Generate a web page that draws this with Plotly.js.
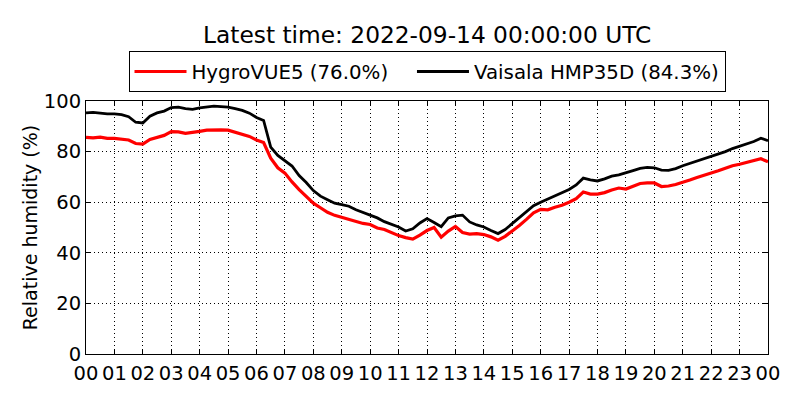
<!DOCTYPE html>
<html>
<head>
<meta charset="utf-8">
<script src="https://cdn.plot.ly/plotly-3.0.1.min.js"></script>
<style>
  body { margin: 0; background: #fff; }
  #chart { width: 800px; height: 400px; }
</style>
</head>
<body>
<div id="chart"></div>
<script>
// 15-minute samples from 2022-09-13 00:00 to 2022-09-14 00:00 UTC
const startTime = "2022-09-13T00:00:00Z";
const stepMinutes = 15;

const hygrovue = [
  85.6, 85.4, 85.7, 85.2, 85.2, 85.0, 84.6, 83.2,
  83.0, 84.8, 85.6, 86.4, 87.9, 87.8, 87.2, 87.5,
  88.0, 88.5, 88.7, 88.6, 88.5, 87.6, 87.0, 86.0,
  84.6, 83.6, 77.4, 73.6, 71.5, 68.0, 65.0, 62.4,
  59.6, 57.8, 56.0, 54.8, 54.0, 53.2, 52.4, 51.6,
  51.2, 49.8, 49.2, 48.0, 46.8, 46.0, 45.4, 47.0,
  48.8, 50.0, 46.2, 48.6, 50.4, 48.0, 47.4, 47.6,
  47.2, 46.3, 45.0, 46.5, 48.6, 50.8, 53.2, 55.8,
  57.2, 57.0, 58.0, 58.8, 60.0, 61.4, 64.0, 63.2,
  63.2, 63.8, 64.8, 65.6, 65.2, 66.2, 67.4, 67.6,
  67.6, 66.2, 66.4, 67.0, 67.8, 68.8, 69.8, 70.6,
  71.6, 72.4, 73.4, 74.4, 75.0, 75.8, 76.6, 77.2,
  76.0
];

const vaisala = [
  95.3, 95.5, 95.2, 94.9, 94.9, 94.6, 93.8, 91.6,
  91.3, 94.0, 95.3, 96.0, 97.4, 97.6, 97.0, 96.7,
  97.3, 97.6, 98.0, 97.8, 97.6, 97.0, 96.3, 95.2,
  93.5, 92.3, 81.8, 78.5, 76.5, 74.3, 70.5, 67.8,
  64.6, 62.4, 61.0, 59.6, 59.0, 58.4, 57.0, 56.0,
  54.8, 53.8, 52.3, 51.2, 50.2, 48.6, 49.5, 51.8,
  53.5, 52.0, 50.3, 53.8, 54.6, 54.9, 52.2, 51.0,
  50.2, 48.8, 47.6, 49.2, 51.6, 54.0, 56.5, 58.6,
  60.0, 61.2, 62.3, 63.6, 65.0, 66.8, 69.5, 68.8,
  68.4, 69.2, 70.3, 70.8, 71.8, 72.5, 73.4, 73.8,
  73.6, 72.7, 72.6, 73.3, 74.4, 75.3, 76.4, 77.4,
  78.2, 79.0, 80.0, 81.2, 82.1, 82.9, 84.0, 85.3,
  84.3
];

const seriesNames = ["HygroVUE5 (76.0%)", "Vaisala HMP35D (84.3%)"];
const yTicks = [0, 20, 40, 60, 80, 100];

function buildTimes(n) {
  let t0 = new Date(startTime).getTime();
  let out = [];
  for (let i = 0; i < n; i++) {
    let d = new Date(t0 + i * stepMinutes * 60000);
    out.push(d.toISOString().slice(0, 19).replace("T", " "));
  }
  return out;
}

const times = buildTimes(hygrovue.length);
const FONT = "DejaVu Sans, sans-serif";
const PAD = "\u00a0\u00a0\u00a0";  // wider gap between legend entries

let traces = [
  { x: times, y: hygrovue, name: seriesNames[0] + PAD, type: "scatter", mode: "lines",
    line: { color: "#ff0000", width: 3.2 } },
  { x: times, y: vaisala, name: seriesNames[1], type: "scatter", mode: "lines",
    line: { color: "#000000", width: 2.8 } }
];

let axisCommon = {
  showline: true, linecolor: "#000", linewidth: 1, mirror: "ticks",
  ticks: "inside", ticklen: 5, tickcolor: "#000",
  showgrid: true, gridcolor: "#000", griddash: "1px,3px", gridwidth: 1,
  zeroline: false, tickfont: { family: FONT, size: 19.5, color: "#000" }
};

let layout = {
  width: 800, height: 400,
  margin: { l: 86, r: 32, t: 101, b: 46 },
  paper_bgcolor: "#fff", plot_bgcolor: "#fff",
  font: { family: FONT, color: "#000" },
  title: { text: "Latest time: 2022-09-14 00:00:00 UTC",
    font: { family: FONT, size: 23.3, color: "#000" },
    x: 0.534, xanchor: "center", y: 0.912, yanchor: "middle" },
  showlegend: true,
  legend: { orientation: "h", x: 0.5, xanchor: "center", y: 1.035, yanchor: "bottom",
    bordercolor: "#000", borderwidth: 1, bgcolor: "#fff", itemwidth: 52,
    font: { family: FONT, size: 19.8, color: "#000" } },
  xaxis: Object.assign({}, axisCommon, {
    type: "date",
    range: ["2022-09-13 00:00:00", "2022-09-14 00:00:00"],
    dtick: 3600000, tick0: "2022-09-13 00:00:00", tickformat: "%H",
    ticklabelstandoff: 2
  }),
  yaxis: Object.assign({}, axisCommon, {
    range: [0, 100], tickvals: yTicks,
    title: { text: "Relative humidity (%)", font: { family: FONT, size: 19, color: "#000" }, standoff: 1 }
  })
};

Plotly.newPlot("chart", traces, layout, { displayModeBar: false, staticPlot: true });
</script>
</body>
</html>
